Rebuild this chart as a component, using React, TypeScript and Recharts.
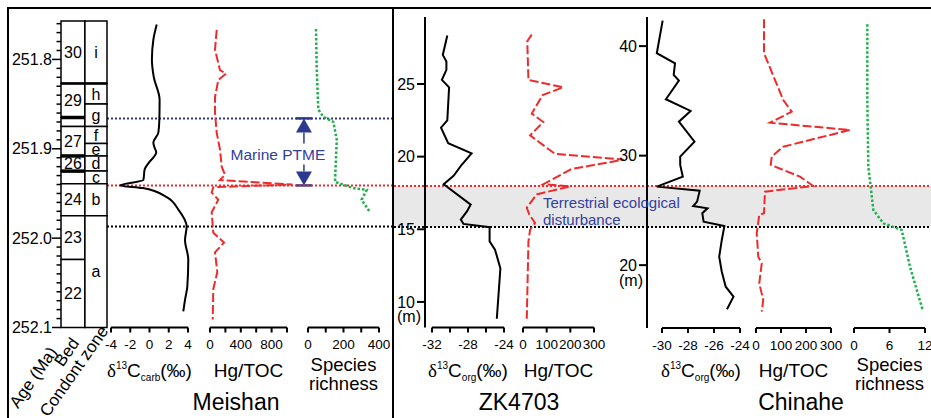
import React from 'react';
import { LineChart, Line, XAxis, YAxis, ReferenceArea, ReferenceLine } from 'recharts';

const FONT = '"Liberation Sans", Arial, Helvetica, sans-serif';
const SERIF = '"Liberation Serif", "Times New Roman", serif';
const INK = '#000';
const RED = '#ee2b2b';
const GREEN = '#1db04b';
const NAVY = '#2b3990';
const BAND = '#e8e8e8';

// ---------- Meishan (age, Ma) ----------
const MEISHAN_AGE_DOMAIN: [number, number] = [251.757, 252.1];
const MEISHAN_AGE_TICKS = Array.from({ length: 35 }, (_, i) => Math.round((251.76 + i * 0.01) * 100) / 100);

const BED_EDGES = [251.757, 251.827, 251.865, 251.875, 251.908, 251.925, 251.939, 251.975, 252.024, 252.1];
const BED_NAMES = ['30', '29', '', '27', '26', '', '24', '23', '22'];
const BED_HEAVY = [251.865, 251.908, 251.925];
const ZONE_EDGES = [251.757, 251.827, 251.85, 251.875, 251.894, 251.908, 251.925, 251.939, 251.975, 252.1];
const ZONE_NAMES = ['i', 'h', 'g', 'f', 'e', 'd', 'c', 'b', 'a'];
const BED_SPLIT = 0.52; // bed column | conodont zone column

const MEISHAN_CARB_AGE = [251.761, 251.778, 251.8, 251.82, 251.845, 251.868, 251.882, 251.893, 251.898, 251.904, 251.916, 251.923, 251.935, 251.941, 251.944, 251.954, 251.968, 251.987, 252.002, 252.024, 252.054, 252.069, 252.082];
const MEISHAN_CARB = [0.75, 0.4, 0.25, 0.45, 1.05, 1.02, 0.92, 0.4, 0.5, 0.7, -0.1, -0.5, -0.64, -3.06, -0.7, 1.78, 3.0, 3.86, 3.69, 4.03, 3.93, 3.69, 3.51];

const MEISHAN_HG_AGE = [251.767, 251.789, 251.812, 251.816, 251.823, 251.842, 251.86, 251.882, 251.901, 251.92, 251.929, 251.935, 251.94, 251.943, 251.949, 251.957, 251.971, 251.994, 252.005, 252.016, 252.038, 252.057, 252.091];
const MEISHAN_HG = [87, 65, 130, 208, 108, 65, 65, 87, 130, 152, 195, 130, 1070, 43, 22, 108, 22, 43, 182, 65, 95, 43, 35];

const MEISHAN_SR_AGE = [251.766, 251.808, 251.856, 251.864, 251.87, 251.89, 251.937, 251.944, 251.946, 251.957, 251.971];
const MEISHAN_SR = [45, 49, 58, 86, 143, 162, 152, 255, 331, 302, 349];

const MEISHAN_EVENTS = { marineTop: 251.866, marineBase: 251.941, terrBase: 251.987 };
const PTME_ARROW_X = [0.663, 0.719];

const CARB_TICKS = [-4, -2, 0, 2, 4];
const MEISHAN_HG_TICKS = [0, 200, 400, 600, 800, 1000];
const MEISHAN_HG_LABELS = [0, 400, 800];
const MEISHAN_SR_TICKS = [0, 100, 200, 300, 400];
const MEISHAN_SR_LABELS = [0, 200, 400];

// ---------- ZK4703 (depth, m) ----------
const ZK_DEPTH_DOMAIN: [number, number] = [8.24, 29.61];
const ZK_DEPTH_TICKS = [10, 15, 20, 25];
const ZK_ORG_DEPTH = [28.33, 27.0, 26.55, 25.97, 25.28, 24.77, 22.5, 21.99, 20.92, 20.23, 19.44, 18.68, 18.1, 16.7, 16.25, 15.67, 15.37, 15.14, 14.17, 13.6, 12.31, 8.84];
const ZK_ORG = [-30.3, -30.8, -30.4, -30.4, -30.9, -30.1, -30.3, -31.0, -30.2, -27.6, -28.7, -29.6, -30.7, -27.7, -28.1, -28.8, -28.5, -25.6, -25.6, -25.0, -24.4, -24.8];
const ZK_HG_DEPTH = [28.4, 27.94, 25.28, 24.77, 24.24, 22.96, 22.38, 21.46, 20.19, 19.79, 19.15, 18.1, 17.95, 17.4, 16.48, 16.0, 15.44, 14.98, 14.17, 8.84];
const ZK_HG = [37, 18, 23, 170, 83, 37, 86, 30, 135, 425, 206, 86, 199, 58, 16, 27, 51, 30, 23, 16];
const ZK_EVENTS = { top: 17.98, base: 15.16 };
const ZK_ORG_TICKS = [-32, -30, -28, -26, -24];
const ZK_ORG_LABELS = [-32, -28, -24];
const HG_TICKS = [0, 100, 200, 300];

// ---------- Chinahe (depth, m) ----------
const CH_DEPTH_DOMAIN: [number, number] = [14.26, 42.66];
const CH_DEPTH_TICKS = [20, 30, 40];
const CH_ORG_DEPTH = [42.33, 39.35, 38.43, 37.37, 36.85, 35.15, 34.08, 33.1, 31.28, 29.91, 29.15, 28.08, 27.17, 26.8, 25.8, 25.4, 25.19, 24.74, 23.97, 23.58, 22.3, 20.77, 19.4, 18.03, 17.12, 15.97];
const CH_ORG = [-29.95, -30.4, -29.0, -29.1, -28.7, -29.7, -27.8, -28.7, -27.5, -28.6, -28.6, -28.4, -30.4, -27.1, -27.3, -27.6, -26.5, -26.9, -26.8, -25.2, -25.4, -25.6, -25.4, -25.1, -24.5, -25.0];
const CH_HG_DEPTH = [42.45, 39.35, 35.08, 34.01, 33.01, 32.34, 30.82, 29.91, 29.15, 28.08, 27.23, 26.71, 24.74, 24.58, 22.91, 20.77, 20.17, 18.34, 16.82, 15.75];
const CH_HG = [32, 32, 109, 143, 56, 376, 109, 63, 59, 176, 229, 36, 32, 13, 3, 9, 23, 13, 29, 23];
const CH_SR_DEPTH = [42.0, 35.08, 28.99, 27.17, 25.04, 23.82, 23.21, 19.86, 15.91];
const CH_SR = [2.25, 2.25, 2.42, 2.82, 3.27, 4.96, 8.06, 9.46, 11.6];
const CH_EVENTS = { top: 27.23, base: 23.49 };
const CH_ORG_TICKS = [-30, -28, -26, -24];
const CH_SR_TICKS = [0, 6, 12];

type Pt = { d: number; v: number };
const zip = (d: number[], v: number[]): Pt[] => d.map((x, i) => ({ d: x, v: v[i] }));

const MEISHAN_CARB_DATA = zip(MEISHAN_CARB_AGE, MEISHAN_CARB);
const ZK_ORG_DATA = zip(ZK_ORG_DEPTH, ZK_ORG);
const CH_ORG_DATA = zip(CH_ORG_DEPTH, CH_ORG);

// lines that run past the axis end (Hg spikes) must not be clipped
const CLIP_FIX = '.recharts-line, .recharts-line * { clip-path: none !important; }';

function AxisTitle({ viewBox, kind }: any) {
  const cx = viewBox.x + viewBox.width / 2;
  const y = viewBox.y + 49;
  if (kind === 'sr') {
    return (
      <text x={cx} y={y - 6} textAnchor="middle" fontSize={18.5} fontFamily={FONT} fill={INK}>
        <tspan x={cx}>Species</tspan>
        <tspan x={cx} dy={19}>richness</tspan>
      </text>
    );
  }
  if (kind === 'hg') {
    return (
      <text x={cx} y={y} textAnchor="middle" fontSize={19} fontFamily={FONT} fill={INK}>Hg/TOC</text>
    );
  }
  return (
    <text x={cx} y={y} textAnchor="middle" fontSize={19} fontFamily={FONT} fill={INK}>
      <tspan fontFamily={SERIF}>δ</tspan>
      <tspan fontSize={10} dy={-8}>13</tspan>
      <tspan dy={8}>C</tspan>
      <tspan fontSize={10} dy={4}>{kind}</tspan>
      <tspan dy={-4}>(‰)</tspan>
    </text>
  );
}

// vertical layout: depth/age on the Y axis, smaller values at the top unless reversed
function Profile(props: {
  data: Pt[];
  x0: number;
  x1: number;
  y0: number;
  y1: number;
  yDomain: [number, number];
  reversed?: boolean;
  xDomain: [number, number];
  ticks: number[];
  labelled?: number[];
  stroke: string;
  dash?: string;
  width?: number;
  curve?: 'linear' | 'monotone';
  title: string;
}) {
  const padL = 25, padR = 45, padT = 8, axisH = 30, padB = 70;
  const { data, x0, x1, y0, y1 } = props;
  const shown = props.labelled ?? props.ticks;
  return (
    <div style={{ position: 'absolute', left: x0 - padL, top: y0 - padT }}>
      <LineChart
        width={x1 - x0 + padL + padR}
        height={y1 - y0 + padT + axisH + padB}
        data={data}
        layout="vertical"
        margin={{ top: padT, right: padR, bottom: padB, left: padL }}
      >
        <XAxis
          type="number"
          dataKey="v"
          domain={props.xDomain}
          allowDataOverflow
          ticks={props.ticks}
          interval={0}
          height={axisH}
          tickSize={5}
          tickMargin={7}
          axisLine={{ stroke: INK, strokeWidth: 2 }}
          tickLine={{ stroke: INK, strokeWidth: 2 }}
          tick={{ fill: INK, fontSize: 13.5, fontFamily: FONT }}
          tickFormatter={(v: number) => (shown.includes(v) ? String(v) : '')}
          label={<AxisTitle kind={props.title} />}
        />
        <YAxis type="number" dataKey="d" hide domain={props.yDomain} reversed={props.reversed} allowDataOverflow />
        <Line
          type={props.curve ?? 'linear'}
          dataKey="v"
          stroke={props.stroke}
          strokeWidth={props.width ?? 2}
          strokeDasharray={props.dash}
          dot={false}
          activeDot={false}
          isAnimationActive={false}
        />
      </LineChart>
    </div>
  );
}

// background chart for event horizons, same vertical scale as the site profiles
function Events(props: {
  data: Pt[];
  x0: number;
  x1: number;
  y0: number;
  y1: number;
  yDomain: [number, number];
  reversed?: boolean;
  children: React.ReactNode;
}) {
  return (
    <div style={{ position: 'absolute', left: props.x0, top: props.y0 }}>
      <LineChart
        width={props.x1 - props.x0}
        height={props.y1 - props.y0}
        layout="vertical"
        margin={{ top: 0, right: 0, bottom: 0, left: 0 }}
        data={props.data}
      >
        <XAxis type="number" hide domain={[0, 1]} allowDataOverflow />
        <YAxis type="number" dataKey="d" hide domain={props.yDomain} reversed={props.reversed} allowDataOverflow />
        {props.children}
      </LineChart>
    </div>
  );
}

const dotted = (color: string, y: number) => (
  <ReferenceLine key={color + y} y={y} stroke={color} strokeWidth={2} strokeDasharray="2 2" ifOverflow="visible" />
);

const PtmeArrow = (p: any) => {
  const cx = p.x + p.width / 2;
  const top = p.y;
  const bot = p.y + p.height;
  const hw = 8, th = 14;
  return (
    <g>
      <line x1={cx - hw} x2={cx + hw} y1={top} y2={top} stroke={NAVY} strokeWidth={2.5} />
      <polygon points={`${cx},${top} ${cx - hw},${top + th} ${cx + hw},${top + th}`} fill={NAVY} />
      <line x1={cx} x2={cx} y1={top + th} y2={top + 25} stroke={NAVY} strokeWidth={1.5} />
      <line x1={cx} x2={cx} y1={bot - 21} y2={bot - th} stroke={NAVY} strokeWidth={1.5} />
      <polygon points={`${cx},${bot} ${cx - hw},${bot - th} ${cx + hw},${bot - th}`} fill={NAVY} />
      <line x1={cx - hw} x2={cx + hw} y1={bot} y2={bot} stroke={NAVY} strokeWidth={2.5} />
      <text x={cx - 26} y={top + 42} textAnchor="middle" fontSize={15.5} fontFamily={FONT} fill="#34409c">
        Marine PTME
      </text>
    </g>
  );
};

const AgeTick = (p: any) => {
  const v = p.payload.value;
  const major = Math.abs(v * 10 - Math.round(v * 10)) < 1e-6;
  return (
    <g>
      <line x1={p.x - (major ? 9 : 4.5)} x2={p.x} y1={p.y} y2={p.y} stroke={INK} strokeWidth={1.5} />
      {major && (
        <text x={p.x - 9} y={p.y} dy={5.7} textAnchor="end" fontSize={16} fontFamily={FONT} fill={INK}>
          {v.toFixed(1)}
        </text>
      )}
    </g>
  );
};

function MeishanColumn() {
  const x0 = 61, x1 = 107, y0 = 21, y1 = 327.5, axisW = 56;
  const cells = (edges: number[], names: string[], a: number, b: number) =>
    names.map((n, i) => (
      <ReferenceArea
        key={`${a}-${i}`}
        x1={a}
        x2={b}
        y1={edges[i]}
        y2={edges[i + 1]}
        fill="#fff"
        fillOpacity={1}
        stroke={INK}
        strokeWidth={1.5}
        label={{ value: n, position: 'center', fontSize: 16, fontFamily: FONT, fill: INK }}
      />
    ));
  return (
    <div style={{ position: 'absolute', left: x0 - axisW, top: y0 - 6 }}>
      <LineChart
        width={axisW + (x1 - x0) + 4}
        height={y1 - y0 + 12}
        layout="vertical"
        margin={{ top: 6, right: 4, bottom: 6, left: 0 }}
        data={MEISHAN_CARB_DATA}
      >
        <XAxis type="number" hide domain={[0, 1]} allowDataOverflow />
        <YAxis
          type="number"
          dataKey="d"
          domain={MEISHAN_AGE_DOMAIN}
          allowDataOverflow
          ticks={MEISHAN_AGE_TICKS}
          interval={0}
          width={axisW}
          axisLine={false}
          tickLine={false}
          tickSize={0}
          tickMargin={0}
          tick={AgeTick}
        />
        {cells(BED_EDGES, BED_NAMES, 0, BED_SPLIT)}
        {cells(ZONE_EDGES, ZONE_NAMES, BED_SPLIT, 1)}
        {BED_HEAVY.map((a) => (
          <ReferenceLine key={a} segment={[{ x: 0, y: a }, { x: BED_SPLIT, y: a }]} stroke={INK} strokeWidth={3.5} />
        ))}
        <ReferenceLine segment={[{ x: 0, y: BED_EDGES[1] }, { x: 1, y: BED_EDGES[1] }]} stroke={INK} strokeWidth={2.5} />
      </LineChart>
    </div>
  );
}

const DepthTick = (p: any) => (
  <g>
    <text x={p.x} y={p.y} dy={5.7} textAnchor="end" fontSize={16} fontFamily={FONT} fill={INK}>
      {p.payload.value}
    </text>
    {p.payload.value === p.lowest && (
      <text x={p.x + 6} y={p.y} dy={20.5} textAnchor="end" fontSize={16} fontFamily={FONT} fill={INK}>
        (m)
      </text>
    )}
  </g>
);

function DepthAxis(props: { axisX: number; y0: number; y1: number; domain: [number, number]; ticks: number[] }) {
  const w = 44;
  return (
    <div style={{ position: 'absolute', left: props.axisX - w, top: props.y0 }}>
      <LineChart width={w + 2} height={props.y1 - props.y0} margin={{ top: 0, right: 1, bottom: 0, left: 0 }} data={[]}>
        <XAxis type="number" hide domain={[0, 1]} allowDataOverflow />
        <YAxis
          type="number"
          domain={props.domain}
          allowDataOverflow
          ticks={props.ticks}
          interval={0}
          width={w}
          axisLine={{ stroke: INK, strokeWidth: 2 }}
          tickLine={{ stroke: INK, strokeWidth: 2 }}
          tickSize={8}
          tickMargin={2}
          tick={(p: any) => <DepthTick {...p} lowest={props.ticks[0]} />}
        />
      </LineChart>
    </div>
  );
}

export default function App() {
  const M = { y0: 21, y1: 327.5, yDomain: MEISHAN_AGE_DOMAIN, reversed: false };
  const Z = { y0: 17, y1: 327.5, yDomain: ZK_DEPTH_DOMAIN, reversed: true };
  const C = { y0: 17, y1: 328, yDomain: CH_DEPTH_DOMAIN, reversed: true };
  return (
    <div
      style={{
        position: 'absolute',
        left: 0,
        top: 0,
        width: 931,
        height: 418,
        overflow: 'hidden',
        background: '#fff',
        fontFamily: FONT,
      }}
    >
      <style>{CLIP_FIX}</style>

      {/* event horizons */}
      <Events {...M} data={MEISHAN_CARB_DATA} x0={107} x1={392}>
        {dotted(NAVY, MEISHAN_EVENTS.marineTop)}
        {dotted(RED, MEISHAN_EVENTS.marineBase)}
        {dotted(INK, MEISHAN_EVENTS.terrBase)}
        <ReferenceArea
          x1={PTME_ARROW_X[0]}
          x2={PTME_ARROW_X[1]}
          y1={MEISHAN_EVENTS.marineTop}
          y2={MEISHAN_EVENTS.marineBase}
          shape={PtmeArrow}
        />
      </Events>
      <Events {...Z} data={ZK_ORG_DATA} x0={394} x1={647}>
        <ReferenceArea y1={ZK_EVENTS.base} y2={ZK_EVENTS.top} fill={BAND} fillOpacity={1} stroke="none" />
        {dotted(RED, ZK_EVENTS.top)}
        {dotted(INK, ZK_EVENTS.base)}
      </Events>
      <Events {...C} data={CH_ORG_DATA} x0={647} x1={931}>
        <ReferenceArea y1={CH_EVENTS.base} y2={CH_EVENTS.top} fill={BAND} fillOpacity={1} stroke="none" />
        {dotted(RED, CH_EVENTS.top)}
        {dotted(INK, CH_EVENTS.base)}
      </Events>

      {/* frame */}
      <div style={{ position: 'absolute', left: 7, top: 7, width: 930, height: 2, background: INK }} />
      <div style={{ position: 'absolute', left: 7, top: 7, width: 2, height: 420, background: INK }} />
      <div style={{ position: 'absolute', left: 392, top: 7, width: 2, height: 420, background: INK }} />

      {/* Meishan */}
      <MeishanColumn />
      <Profile {...M} x0={111} x1={188} data={MEISHAN_CARB_DATA} xDomain={[-4, 4]} ticks={CARB_TICKS} stroke={INK} curve="monotone" title="carb" />
      <Profile {...M} x0={210} x1={287} data={zip(MEISHAN_HG_AGE, MEISHAN_HG)} xDomain={[0, 1000]} ticks={MEISHAN_HG_TICKS} labelled={MEISHAN_HG_LABELS} stroke={RED} dash="9 3" title="hg" />
      <Profile {...M} x0={308} x1={379} data={zip(MEISHAN_SR_AGE, MEISHAN_SR)} xDomain={[0, 400]} ticks={MEISHAN_SR_TICKS} labelled={MEISHAN_SR_LABELS} stroke={GREEN} dash="2.5 2" width={2.5} title="sr" />

      {/* ZK4703 */}
      <DepthAxis axisX={425} y0={Z.y0} y1={Z.y1} domain={Z.yDomain} ticks={ZK_DEPTH_TICKS} />
      <Profile {...Z} x0={432} x1={504} data={ZK_ORG_DATA} xDomain={[-32, -24]} ticks={ZK_ORG_TICKS} labelled={ZK_ORG_LABELS} stroke={INK} title="org" />
      <Profile {...Z} x0={523} x1={594} data={zip(ZK_HG_DEPTH, ZK_HG)} xDomain={[0, 300]} ticks={HG_TICKS} stroke={RED} dash="9 3" title="hg" />

      {/* Chinahe */}
      <DepthAxis axisX={647} y0={C.y0} y1={C.y1} domain={C.yDomain} ticks={CH_DEPTH_TICKS} />
      <Profile {...C} x0={662} x1={740} data={CH_ORG_DATA} xDomain={[-30, -24]} ticks={CH_ORG_TICKS} stroke={INK} title="org" />
      <Profile {...C} x0={756} x1={831} data={zip(CH_HG_DEPTH, CH_HG)} xDomain={[0, 300]} ticks={HG_TICKS} stroke={RED} dash="9 3" title="hg" />
      <Profile {...C} x0={854} x1={925} data={zip(CH_SR_DEPTH, CH_SR)} xDomain={[0, 12]} ticks={CH_SR_TICKS} stroke={GREEN} dash="2.5 2" width={2.5} title="sr" />

      {/* free text */}
      <svg width={931} height={418} style={{ position: 'absolute', left: 0, top: 0, pointerEvents: 'none' }}>
        <g fontFamily={FONT} fill={INK} fontSize={17}>
          <text x={58} y={352} textAnchor="end" transform="rotate(-55 58 352)">Age (Ma)</text>
          <text x={80} y={343} textAnchor="end" transform="rotate(-55 80 343)">Bed</text>
          <text x={109} y={331} textAnchor="end" transform="rotate(-55 109 331)">Condont zone</text>
        </g>
        <g fontFamily={FONT} fill={INK} fontSize={23} textAnchor="middle">
          <text x={236} y={410}>Meishan</text>
          <text x={519} y={410}>ZK4703</text>
          <text x={801} y={410}>Chinahe</text>
        </g>
        <g fontFamily={FONT} fill="#34409c" fontSize={15}>
          <text x={543} y={208}>Terrestrial ecological</text>
          <text x={543} y={225}>disturbance</text>
        </g>
      </svg>
    </div>
  );
}
